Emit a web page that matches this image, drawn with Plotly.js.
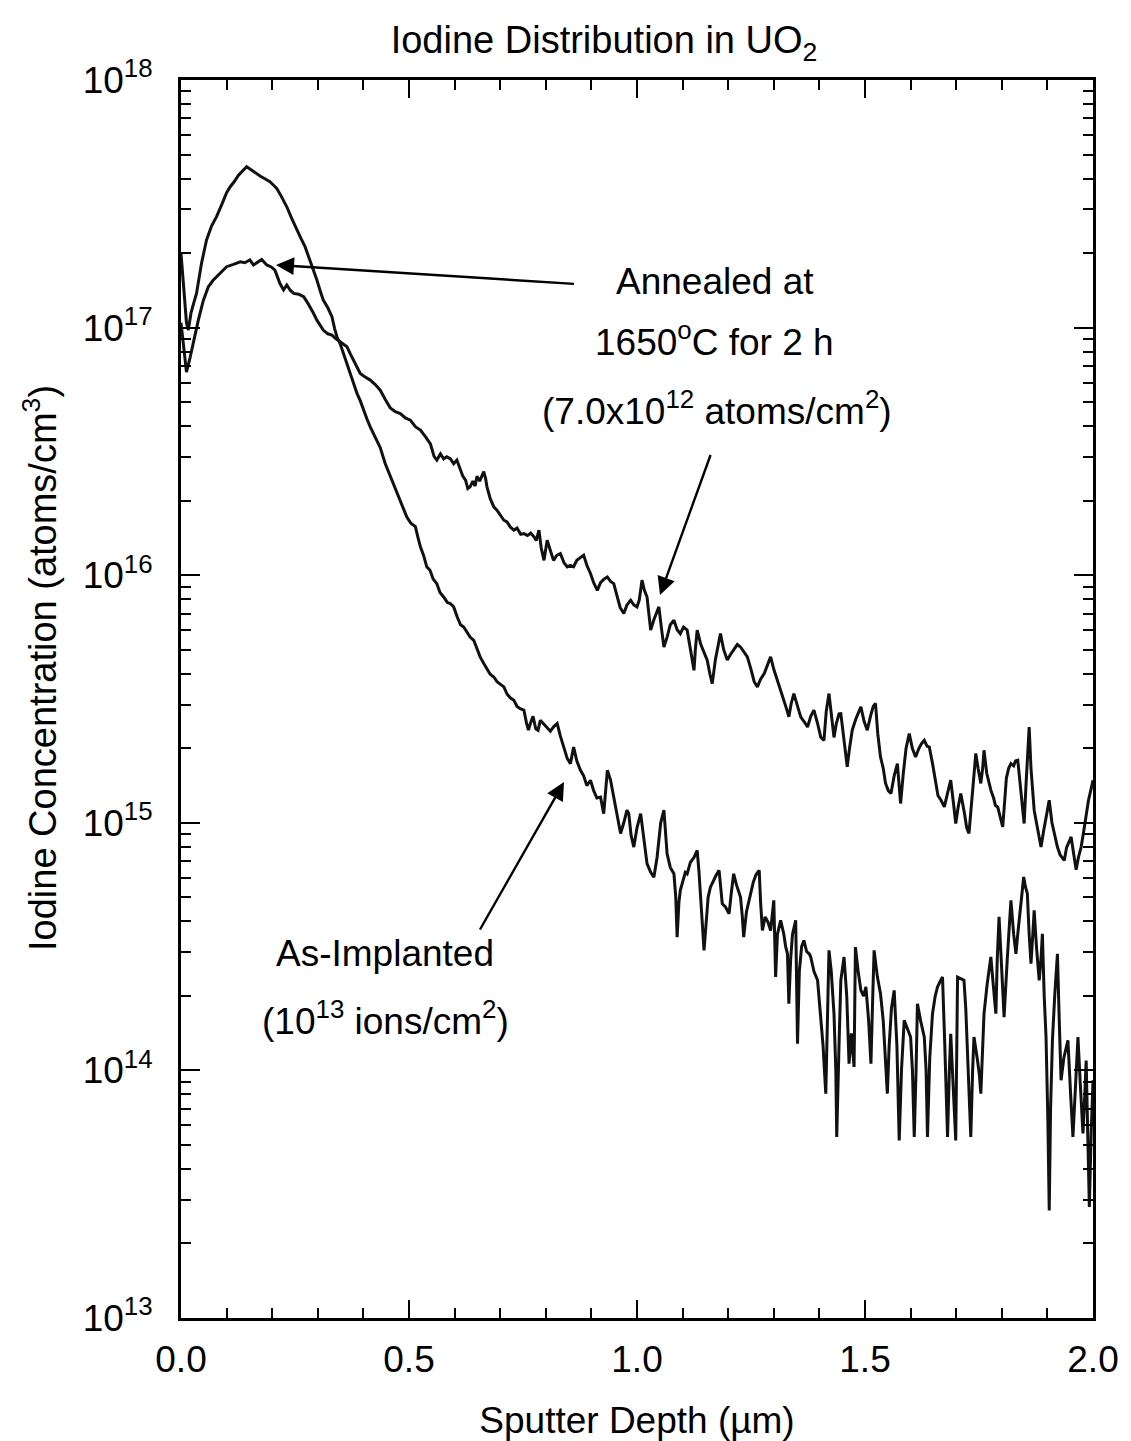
<!DOCTYPE html>
<html>
<head>
<meta charset="utf-8">
<script src="https://cdn.plot.ly/plotly-3.0.1.min.js"></script>
<style>
  html, body { margin: 0; padding: 0; background: #fff; }
  #chart { width: 1131px; height: 1441px; }
</style>
</head>
<body>
<div id="chart"></div>
<script>
// Values.
// Depth in micrometres; concentration recorded as log10(atoms/cm^3).
const annealedDepth = [0.000,0.005,0.012,0.020,0.027,0.038,0.049,0.060,0.070,0.078,0.090,0.100,0.115,0.130,0.140,0.151,0.159,0.168,0.177,0.188,0.198,0.206,0.212,0.217,0.225,0.232,0.240,0.247,0.258,0.269,0.276,0.283,0.290,0.298,0.305,0.312,0.322,0.331,0.340,0.349,0.356,0.364,0.371,0.378,0.386,0.393,0.404,0.415,0.426,0.437,0.448,0.459,0.470,0.481,0.492,0.503,0.514,0.525,0.536,0.547,0.555,0.561,0.569,0.576,0.583,0.591,0.598,0.605,0.612,0.618,0.624,0.629,0.634,0.640,0.645,0.649,0.655,0.660,0.664,0.668,0.671,0.678,0.686,0.694,0.701,0.708,0.715,0.722,0.730,0.737,0.745,0.752,0.760,0.767,0.774,0.779,0.785,0.790,0.796,0.803,0.810,0.817,0.824,0.832,0.840,0.847,0.854,0.861,0.868,0.876,0.883,0.890,0.898,0.905,0.913,0.920,0.928,0.935,0.942,0.949,0.956,0.963,0.971,0.978,0.986,0.993,1.000,1.005,1.011,1.016,1.022,1.026,1.030,1.037,1.043,1.048,1.054,1.059,1.066,1.073,1.081,1.088,1.095,1.102,1.110,1.117,1.125,1.128,1.132,1.140,1.147,1.154,1.160,1.165,1.172,1.178,1.183,1.190,1.198,1.205,1.212,1.220,1.227,1.235,1.242,1.250,1.257,1.264,1.271,1.279,1.286,1.293,1.300,1.308,1.315,1.322,1.328,1.333,1.338,1.344,1.352,1.359,1.366,1.374,1.381,1.388,1.396,1.403,1.410,1.415,1.421,1.427,1.432,1.437,1.443,1.447,1.454,1.461,1.466,1.472,1.480,1.486,1.491,1.498,1.505,1.512,1.518,1.523,1.528,1.534,1.540,1.545,1.551,1.557,1.564,1.571,1.575,1.578,1.584,1.590,1.597,1.604,1.611,1.618,1.624,1.630,1.636,1.641,1.648,1.655,1.660,1.667,1.674,1.681,1.688,1.694,1.699,1.704,1.710,1.718,1.723,1.728,1.735,1.739,1.743,1.748,1.754,1.758,1.761,1.767,1.772,1.776,1.782,1.786,1.791,1.796,1.802,1.806,1.810,1.815,1.820,1.826,1.830,1.835,1.840,1.845,1.849,1.853,1.857,1.860,1.864,1.868,1.871,1.876,1.881,1.886,1.892,1.898,1.904,1.910,1.916,1.922,1.928,1.932,1.937,1.942,1.948,1.952,1.958,1.963,1.968,1.974,1.980,1.985,1.990,1.995,2.000];
const annealedLog10 = [17.02,16.93,16.82,16.88,16.94,17.03,17.11,17.165,17.19,17.206,17.23,17.246,17.255,17.266,17.262,17.273,17.253,17.265,17.275,17.253,17.245,17.232,17.20,17.178,17.152,17.172,17.15,17.138,17.135,17.125,17.105,17.084,17.06,17.03,17.01,16.99,16.975,16.97,16.955,16.943,16.935,16.923,16.895,16.869,16.84,16.815,16.80,16.788,16.77,16.747,16.71,16.675,16.66,16.653,16.635,16.626,16.60,16.586,16.56,16.53,16.48,16.465,16.49,16.47,16.478,16.47,16.45,16.465,16.43,16.40,16.384,16.35,16.357,16.38,16.36,16.40,16.38,16.40,16.418,16.39,16.357,16.31,16.276,16.26,16.24,16.222,16.215,16.195,16.182,16.19,16.165,16.168,16.16,16.17,16.155,16.14,16.182,16.11,16.06,16.141,16.10,16.06,16.08,16.087,16.05,16.034,16.04,16.034,16.06,16.07,16.081,16.04,16.007,15.97,15.939,15.97,15.985,15.993,15.975,15.966,15.92,15.87,15.845,15.88,15.899,15.88,15.872,15.90,15.98,15.94,15.912,15.84,15.778,15.82,15.85,15.872,15.78,15.71,15.75,15.80,15.818,15.78,15.764,15.79,15.778,15.70,15.616,15.70,15.778,15.72,15.69,15.657,15.60,15.562,15.66,15.72,15.764,15.70,15.657,15.68,15.697,15.72,15.71,15.69,15.67,15.62,15.57,15.549,15.58,15.603,15.64,15.67,15.62,15.576,15.53,15.495,15.46,15.428,15.48,15.522,15.47,15.428,15.41,15.387,15.43,15.455,15.401,15.346,15.333,15.45,15.522,15.42,15.345,15.40,15.44,15.441,15.33,15.226,15.30,15.374,15.42,15.45,15.468,15.41,15.374,15.43,15.47,15.482,15.36,15.266,15.22,15.16,15.13,15.118,15.19,15.239,15.15,15.078,15.20,15.30,15.36,15.30,15.266,15.30,15.32,15.333,15.31,15.306,15.24,15.172,15.11,15.09,15.064,15.12,15.172,15.08,14.997,15.06,15.118,15.04,14.98,14.957,15.10,15.20,15.28,15.22,15.159,15.22,15.293,15.20,15.16,15.132,15.10,15.07,15.064,15.03,14.983,15.08,15.18,15.22,15.239,15.23,15.25,15.253,15.16,15.06,14.997,15.15,15.30,15.387,15.22,15.10,15.051,15.00,14.95,14.902,14.97,15.04,15.091,15.00,14.95,14.902,14.87,14.86,14.848,14.90,14.93,14.943,14.87,14.81,14.86,14.902,14.97,15.037,15.09,15.13,15.172];

const implantedDepth = [0.000,0.006,0.012,0.016,0.022,0.028,0.034,0.045,0.056,0.067,0.078,0.090,0.100,0.108,0.117,0.126,0.135,0.144,0.152,0.159,0.166,0.175,0.185,0.195,0.203,0.210,0.220,0.232,0.243,0.254,0.263,0.272,0.283,0.290,0.298,0.305,0.312,0.322,0.331,0.337,0.342,0.350,0.356,0.364,0.371,0.378,0.386,0.393,0.400,0.408,0.415,0.426,0.437,0.448,0.459,0.468,0.477,0.486,0.495,0.504,0.514,0.520,0.525,0.532,0.539,0.546,0.553,0.561,0.568,0.576,0.584,0.591,0.598,0.606,0.613,0.620,0.627,0.634,0.642,0.649,0.656,0.664,0.671,0.678,0.686,0.693,0.700,0.708,0.715,0.722,0.730,0.737,0.745,0.752,0.758,0.762,0.766,0.772,0.778,0.783,0.788,0.795,0.803,0.810,0.818,0.825,0.832,0.839,0.847,0.854,0.861,0.868,0.876,0.883,0.890,0.898,0.905,0.912,0.920,0.927,0.935,0.942,0.949,0.956,0.964,0.971,0.978,0.982,0.987,0.993,1.000,1.008,1.015,1.022,1.030,1.037,1.044,1.052,1.059,1.066,1.073,1.081,1.085,1.088,1.092,1.095,1.100,1.106,1.110,1.117,1.125,1.132,1.136,1.139,1.143,1.147,1.152,1.156,1.161,1.168,1.174,1.180,1.187,1.194,1.202,1.207,1.212,1.218,1.223,1.227,1.231,1.234,1.240,1.245,1.249,1.255,1.261,1.268,1.271,1.275,1.281,1.287,1.293,1.297,1.300,1.304,1.308,1.315,1.322,1.326,1.330,1.333,1.337,1.341,1.348,1.352,1.356,1.361,1.366,1.372,1.378,1.381,1.388,1.396,1.399,1.403,1.408,1.414,1.418,1.421,1.426,1.432,1.436,1.438,1.443,1.447,1.454,1.460,1.465,1.470,1.476,1.479,1.485,1.491,1.497,1.502,1.508,1.513,1.517,1.520,1.527,1.534,1.540,1.545,1.549,1.553,1.558,1.564,1.570,1.575,1.580,1.586,1.593,1.600,1.604,1.608,1.612,1.615,1.622,1.630,1.634,1.637,1.642,1.648,1.654,1.659,1.665,1.670,1.675,1.681,1.685,1.688,1.693,1.699,1.703,1.710,1.717,1.721,1.725,1.729,1.732,1.736,1.739,1.746,1.751,1.754,1.758,1.761,1.768,1.776,1.781,1.787,1.790,1.794,1.800,1.805,1.812,1.820,1.826,1.831,1.835,1.838,1.843,1.848,1.852,1.856,1.860,1.864,1.868,1.871,1.876,1.882,1.886,1.889,1.893,1.897,1.901,1.904,1.907,1.911,1.916,1.922,1.926,1.930,1.936,1.945,1.951,1.956,1.962,1.967,1.972,1.978,1.982,1.985,1.989,1.992,1.996,2.000];
const implantedLog10 = [17.30,17.15,17.02,16.99,17.06,17.10,17.138,17.26,17.354,17.41,17.448,17.50,17.545,17.569,17.59,17.616,17.635,17.650,17.64,17.63,17.623,17.61,17.60,17.589,17.575,17.562,17.53,17.488,17.44,17.394,17.36,17.327,17.273,17.235,17.192,17.15,17.111,17.08,17.044,16.995,16.963,16.93,16.896,16.85,16.815,16.775,16.734,16.705,16.667,16.63,16.599,16.56,16.515,16.45,16.40,16.36,16.32,16.28,16.236,16.21,16.196,16.15,16.115,16.08,16.034,16.02,15.985,15.966,15.93,15.912,15.89,15.885,15.872,15.83,15.80,15.791,15.77,15.75,15.737,15.70,15.67,15.643,15.62,15.60,15.589,15.57,15.56,15.549,15.52,15.505,15.495,15.47,15.46,15.455,15.40,15.374,15.40,15.43,15.38,15.374,15.414,15.40,15.387,15.37,15.39,15.401,15.35,15.306,15.26,15.239,15.306,15.25,15.212,15.19,15.15,15.172,15.13,15.10,15.104,15.037,15.212,15.172,15.10,15.04,14.957,15.00,15.051,15.037,14.95,14.902,14.98,15.037,14.93,14.835,14.80,14.78,14.86,15.00,15.051,14.875,14.82,14.794,14.70,14.538,14.68,14.727,14.76,14.80,14.794,14.84,14.86,14.889,14.80,14.727,14.60,14.485,14.62,14.70,14.74,14.77,14.79,14.808,14.673,14.66,14.633,14.72,14.794,14.75,14.72,14.70,14.62,14.538,14.64,14.68,14.70,14.76,14.79,14.808,14.68,14.565,14.62,14.60,14.565,14.64,14.687,14.377,14.55,14.606,14.55,14.50,14.471,14.269,14.45,14.55,14.606,14.108,14.40,14.50,14.525,14.48,14.47,14.458,14.40,14.364,14.30,14.202,14.10,13.906,14.20,14.485,14.40,14.229,14.00,13.731,14.10,14.364,14.458,14.30,14.027,14.15,14.014,14.498,14.40,14.323,14.30,14.337,14.20,14.027,14.30,14.485,14.38,14.31,14.20,14.05,13.906,14.10,14.25,14.323,14.10,13.717,14.00,14.202,14.17,14.135,14.00,13.731,14.00,14.269,14.20,14.135,14.00,13.731,14.05,14.229,14.30,14.337,14.36,14.377,14.10,13.731,14.00,14.148,13.95,13.717,14.377,14.37,14.364,14.25,14.081,13.90,13.731,14.00,14.135,14.05,13.98,13.906,14.10,14.229,14.35,14.458,14.35,14.229,14.45,14.62,14.40,14.215,14.45,14.687,14.55,14.471,14.55,14.606,14.70,14.781,14.74,14.714,14.55,14.431,14.55,14.646,14.50,14.364,14.45,14.552,14.30,14.135,13.80,13.434,13.85,14.121,14.30,14.471,14.20,13.96,14.05,14.121,13.90,13.731,13.95,14.135,13.95,13.745,13.90,14.04,13.70,13.448,13.75,13.96];

const yTickVals = [1e13, 1e14, 1e15, 1e16, 1e17, 1e18];
const yTickText = ['10<sup>13</sup>','10<sup>14</sup>','10<sup>15</sup>','10<sup>16</sup>','10<sup>17</sup>','10<sup>18</sup>'];
const xTickVals = [0.0, 0.5, 1.0, 1.5, 2.0];
const xTickText = ['0.0','0.5','1.0','1.5','2.0'];

// minor tick positions (2..9 within each decade)
const yMinor = [];
for (let e = 13; e < 18; e++) for (let m = 2; m <= 9; m++) yMinor.push(m * Math.pow(10, e));

const toConc = arr => arr.map(v => Math.pow(10, v));

const FONT = 'Arial, "Liberation Sans", Helvetica, sans-serif';
const lineStyle = { color: '#111', width: 3 };

const traces = [
  { x: annealedDepth, y: toConc(annealedLog10), type: 'scatter', mode: 'lines',
    name: 'Annealed at 1650°C for 2 h', line: lineStyle, showlegend: false },
  { x: implantedDepth, y: toConc(implantedLog10), type: 'scatter', mode: 'lines',
    name: 'As-Implanted', line: lineStyle, showlegend: false }
];

const L = 181, R = 1093, T = 80, B = 1318, W = 1131, H = 1441;
const px = v => (v - L) / (R - L);
const py = v => (B - v) / (B - T);

const txt = (text, x, y, size) => ({
  text, xref: 'paper', yref: 'paper', x: px(x), y: py(y),
  xanchor: 'center', yanchor: 'middle', showarrow: false,
  font: { family: FONT, size: size || 37, color: '#000' }
});
const arrow = (tipX, tipY, tailX, tailY) => ({
  text: ' ', xref: 'paper', yref: 'paper', x: px(tipX), y: py(tipY),
  ax: tailX - tipX, ay: tailY - tipY, showarrow: true,
  arrowhead: 2, arrowsize: 1.5, arrowwidth: 2.4, arrowcolor: '#000', standoff: 0, startstandoff: 0,
  font: { family: FONT, size: 4, color: '#000' }
});

const layout = {
  width: W, height: H,
  margin: { l: L, r: W - R, t: T, b: H - B, pad: 0 },
  paper_bgcolor: '#fff', plot_bgcolor: '#fff',
  font: { family: FONT, color: '#000', size: 37 },
  title: {
    text: 'Iodine Distribution in UO<sub>2</sub>',
    font: { family: FONT, size: 38, color: '#000' },
    xref: 'container', yref: 'container', x: 604 / W, y: 1 - 40 / H,
    xanchor: 'center', yanchor: 'middle'
  },
  xaxis: {
    range: [0, 2], tickvals: xTickVals, ticktext: xTickText,
    ticks: 'inside', ticklen: 18, tickwidth: 2, tickcolor: '#000',
    showline: true, linewidth: 3, linecolor: '#000', mirror: 'allticks',
    showgrid: false, zeroline: false,
    tickfont: { family: FONT, size: 37, color: '#000' },
    ticklabelstandoff: 7,
    minor: { dtick: 0.1, ticks: 'inside', ticklen: 10, tickwidth: 2, tickcolor: '#000', showgrid: false },
    title: { text: 'Sputter Depth (\u00b5m)', font: { family: FONT, size: 37, color: '#000' }, standoff: 35 }
  },
  yaxis: {
    type: 'log', range: [13, 18], tickvals: yTickVals, ticktext: yTickText,
    ticks: 'inside', ticklen: 19, tickwidth: 2, tickcolor: '#000',
    showline: true, linewidth: 3, linecolor: '#000', mirror: 'allticks',
    showgrid: false, zeroline: false,
    tickfont: { family: FONT, size: 37, color: '#000' },
    ticklabelstandoff: 18,
    minor: { tickvals: yMinor, ticks: 'inside', ticklen: 10, tickwidth: 2, tickcolor: '#000', showgrid: false }
  },
  annotations: [
    txt('Annealed at', 715, 281),
    txt('1650<sup>o</sup>C for 2 h', 714, 340),
    txt('(7.0x10<sup>12</sup> atoms/cm<sup>2</sup>)', 717, 408),
    txt('As-Implanted', 385, 953),
    txt('(10<sup>13</sup> ions/cm<sup>2</sup>)', 385, 1018),
    {
      text: 'Iodine Concentration (atoms/cm<sup>3</sup>)', textangle: -90,
      xref: 'paper', yref: 'paper', x: px(40), y: py(668),
      xanchor: 'center', yanchor: 'middle', showarrow: false,
      font: { family: FONT, size: 38, color: '#000' }
    },
    arrow(276, 265, 576, 284),
    arrow(660, 595, 712, 451),
    arrow(564, 782, 478, 933)
  ]
};

Plotly.newPlot('chart', traces, layout, { displayModeBar: false, staticPlot: true });
</script>
</body>
</html>
